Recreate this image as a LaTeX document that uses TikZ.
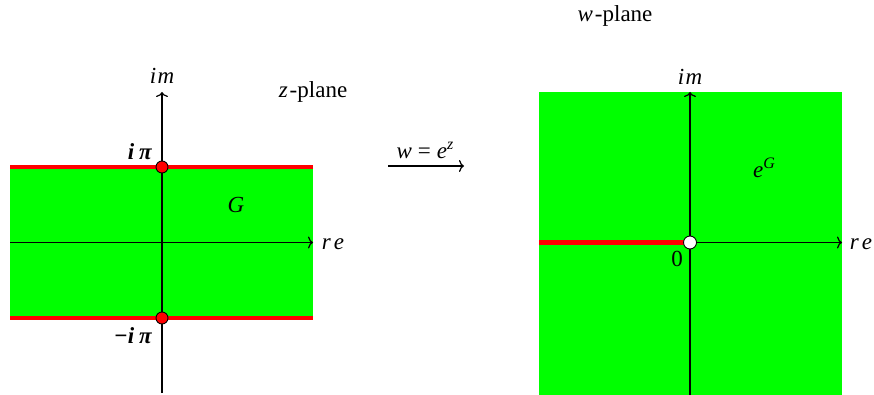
\documentclass[tikz,border=0pt]{standalone}
\usepackage{fontspec}
\setmainfont{Liberation Serif}
\usetikzlibrary{arrows.meta}
\definecolor{grn}{RGB}{0,255,0}
\definecolor{rd}{RGB}{255,0,0}
\newcommand{\supx}[1]{\raisebox{9pt}{\fontsize{16}{16}\selectfont #1}}
\begin{document}
\begin{tikzpicture}[x=1pt,y=-1pt,
  lbl/.style={inner sep=0pt,font=\fontsize{23}{27}\selectfont},
  axis/.style={line width=1.2pt,-{To[length=5pt,width=12pt]}},
  redline/.style={rd,line width=4.2pt},
  reddot/.style={circle,fill=rd,draw=black,line width=0.9pt,minimum size=12pt,inner sep=0pt},
  whitedot/.style={circle,fill=white,draw=black,line width=0.9pt,minimum size=13pt,inner sep=0pt}]
\useasboundingbox (0,0) rectangle (874,395);
% ---------- z-plane ----------
\fill[grn] (10,167) rectangle (313,318);
\coordinate (zTL) at (10,167);
\coordinate (zTR) at (313,167);
\coordinate (zBL) at (10,318);
\coordinate (zBR) at (313,318);
\coordinate (zxL) at (10,242.5);
\coordinate (zxR) at (313,242.5);
\coordinate (zyB) at (162,393);
\coordinate (zyT) at (162,92);
\draw[axis] (zxL) -- (zxR);
\draw[axis] (zyB) -- (zyT);
\draw[redline] (zTL) -- (zTR);
\draw[redline] (zBL) -- (zBR);
\node[reddot] (ipi) at (162,167) {};
\node[reddot] (mipi) at (162,318) {};
\node[lbl] (zim) at (162,76) {\textit{i\kern1.5pt m}};
\node[lbl] (zre) at (333,244) {\textit{r\kern3pt e}};
\node[lbl] (lipi) at (140,152) {\textbf{\textit{i\kern5pt π}}};
\node[lbl] (lmipi) at (133,336) {\textbf{\textit{−i\kern5pt π}}};
\node[lbl] (G) at (236,205) {\textit{G}};
\node[lbl] (zplane) at (313,92) {\textit{z}\kern2pt-plane};
% ---------- map arrow ----------
\coordinate (mA) at (388,166);
\coordinate (mB) at (464,166);
\draw[line width=1.2pt,-{To[length=5pt,width=12pt]}] (mA) -- (mB);
\node[lbl] (map) at (425,150) {\textit{w}\hspace{6pt}=\hspace{6pt}\textit{e}\supx{\textit{z}}};
% ---------- w-plane ----------
\fill[grn] (539,92) rectangle (842,395);
\coordinate (wxL) at (539,242.5);
\coordinate (wO) at (690,242.5);
\coordinate (wxR) at (842,242.5);
\coordinate (wyB) at (690,395);
\coordinate (wyT) at (690,92);
\draw[axis] (wxL) -- (wxR);
\draw[axis] (wyB) -- (wyT);
\draw[redline] (wxL) -- (wO);
\node[whitedot] (origin) at (wO) {};
\node[lbl] (wim) at (690,77) {\textit{i\kern1.5pt m}};
\node[lbl] (wre) at (861,244) {\textit{r\kern3pt e}};
\node[lbl] (zero) at (677,259) {0};
\node[lbl] (eG) at (764,168) {\textit{e}\supx{\textit{G}}};
\node[lbl] (wplane) at (615,16) {\textit{w}\kern2pt-plane};
\end{tikzpicture}
\end{document}
